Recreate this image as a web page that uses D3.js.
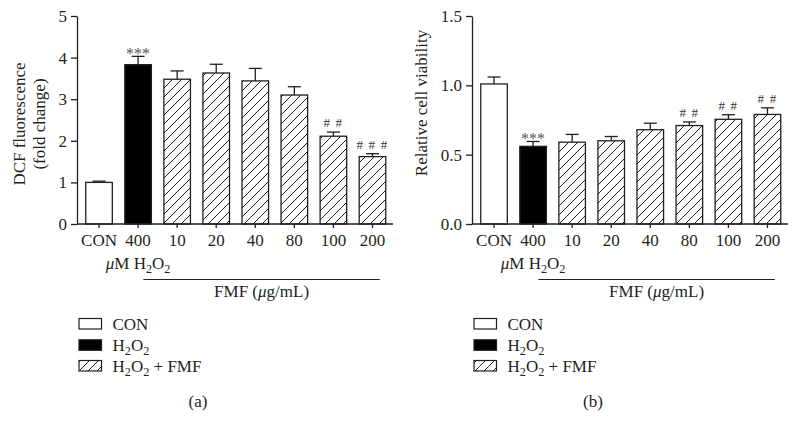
<!DOCTYPE html>
<html>
<head>
<meta charset="utf-8">
<script src="https://cdn.jsdelivr.net/npm/d3@7"></script>
<style>
  html, body { margin: 0; padding: 0; background: #fff; }
  svg { display: block; }
  text { font-family: "Liberation Serif", "Times New Roman", serif; fill: #231f20; }
</style>
</head>
<body>
<svg id="chart" width="797" height="434"></svg>
<script>
// ---------- data ----------
const categories = ["CON", "400", "10", "20", "40", "80", "100", "200"];
const groups = ["con", "h2o2", "fmf", "fmf", "fmf", "fmf", "fmf", "fmf"];

const dcfMean = [1.00, 3.83, 3.48, 3.63, 3.44, 3.10, 2.11, 1.62];
const dcfErr  = [0.03, 0.20, 0.20, 0.21, 0.30, 0.20, 0.10, 0.07];
const dcfSig  = ["", "***", "", "", "", "", "# #", "# # #"];
const dcfTicks = [0, 1, 2, 3, 4, 5];
const dcfTickLabels = ["0", "1", "2", "3", "4", "5"];

const viaMean = [1.01, 0.56, 0.59, 0.60, 0.68, 0.71, 0.755, 0.79];
const viaErr  = [0.05, 0.035, 0.056, 0.031, 0.047, 0.026, 0.033, 0.048];
const viaSig  = ["", "***", "", "", "", "# #", "# #", "# #"];
const viaTicks = [0, 0.5, 1.0, 1.5];
const viaTickLabels = ["0.0", "0.5", "1.0", "1.5"];

const legendLabels = ["CON", "H2O2", "H2O2 + FMF"];
const legendGroups = ["con", "h2o2", "fmf"];
const panelLetters = ["(a)", "(b)"];

// ---------- drawing ----------
const svg = d3.select("#chart");
const ink = "#231f20";
const FS = 17;

const defs = svg.append("defs");
const pat = defs.append("pattern")
  .attr("id", "hatch")
  .attr("patternUnits", "userSpaceOnUse")
  .attr("width", 9).attr("height", 9);
pat.append("rect").attr("width", 9).attr("height", 9).attr("fill", "#fff");
pat.append("path")
  .attr("d", "M-1,10 L10,-1 M-1,1 L1,-1 M8,10 L10,8")
  .attr("stroke", ink).attr("stroke-width", 1);

function fillFor(g) {
  return g === "con" ? "#fff" : g === "h2o2" ? "#000" : "url(#hatch)";
}

// H2O2 with subscripts
function h2o2(sel, suffix) {
  sel.append("tspan").text("H");
  sel.append("tspan").attr("font-size", "0.72em").attr("dy", 4).text("2");
  sel.append("tspan").attr("dy", -4).text("O");
  sel.append("tspan").attr("font-size", "0.72em").attr("dy", 4).text("2");
  sel.append("tspan").attr("dy", -4).text(suffix || "");
}

function panel(cfg) {
  const g = svg.append("g");
  const x = d3.scaleBand()
    .domain(categories)
    .range([cfg.x0 + 2.5, cfg.x0 + 315])
    .paddingInner(0.32)
    .paddingOuter(0.16);
  const y = d3.scaleLinear().domain(cfg.domain).range([224, 16]);
  const bw = x.bandwidth();

  // error bars (upward only)
  const cap = 13;
  categories.forEach((c, i) => {
    const cx = x(c) + bw / 2;
    const top = y(cfg.mean[i] + cfg.err[i]);
    g.append("line").attr("x1", cx).attr("x2", cx)
      .attr("y1", y(cfg.mean[i])).attr("y2", top)
      .attr("stroke", ink).attr("stroke-width", 1.3);
    g.append("line").attr("x1", cx - cap / 2).attr("x2", cx + cap / 2)
      .attr("y1", top).attr("y2", top)
      .attr("stroke", ink).attr("stroke-width", 1.3);
  });

  // bars
  g.selectAll("rect.bar").data(categories).enter().append("rect")
    .attr("class", "bar")
    .attr("x", d => x(d))
    .attr("width", bw)
    .attr("y", (d, i) => y(cfg.mean[i]))
    .attr("height", (d, i) => y(0) - y(cfg.mean[i]))
    .attr("fill", (d, i) => fillFor(groups[i]))
    .attr("stroke", ink).attr("stroke-width", 1.3);

  // significance marks
  categories.forEach((c, i) => {
    const s = cfg.sig[i];
    if (!s) return;
    const cx = x(c) + bw / 2;
    const top = y(cfg.mean[i] + cfg.err[i]);
    const star = s.indexOf("*") >= 0;
    g.append("text")
      .attr("x", cx).attr("y", star ? top + 2.5 : top - 5)
      .attr("text-anchor", "middle")
      .attr("font-size", star ? 16 : 13)
      .attr("letter-spacing", star ? 0 : 1.2)
      .style("fill", star ? "#555" : "#333")
      .text(s);
  });

  // y axis
  const ya = d3.axisLeft(y).tickValues(cfg.ticks)
    .tickFormat((d, i) => cfg.tickLabels[i]).tickSize(6).tickSizeOuter(0).tickPadding(4);
  const yg = g.append("g").attr("transform", `translate(${cfg.x0},0)`).call(ya);
  yg.select(".domain").attr("stroke", ink).attr("stroke-width", 1.3);
  yg.selectAll(".tick line").attr("stroke", ink).attr("stroke-width", 1.3);
  yg.selectAll(".tick text").attr("font-size", FS).attr("font-family", "Liberation Serif").style("fill", ink);

  // x axis
  const xa = d3.axisBottom(x).tickSize(4).tickSizeOuter(0).tickPadding(6);
  const xg = g.append("g").attr("transform", "translate(0,224)").call(xa);
  xg.select(".domain").attr("stroke", ink).attr("stroke-width", 1.3)
    .attr("d", `M${cfg.x0},0H${cfg.x0 + 316}`);
  xg.selectAll(".tick line").attr("stroke", ink).attr("stroke-width", 1.3);
  xg.selectAll(".tick text").attr("font-size", FS).attr("font-family", "Liberation Serif").style("fill", ink);

  // µM H2O2 under the 400 label
  const c400 = x("400") + bw / 2;
  const t = g.append("text").attr("x", c400).attr("y", 269)
    .attr("text-anchor", "middle").attr("font-size", FS);
  t.append("tspan").attr("font-style", "italic").text("μ");
  t.append("tspan").text("M ");
  h2o2(t);

  // FMF bracket line
  const lx1 = c400 + bw / 2 - 8;
  const lx2 = x("200") + bw - 6;
  g.append("line").attr("x1", lx1).attr("x2", lx2).attr("y1", 279.5).attr("y2", 279.5)
    .attr("stroke", ink).attr("stroke-width", 1);
  const f = g.append("text").attr("x", (lx1 + lx2) / 2).attr("y", 297)
    .attr("text-anchor", "middle").attr("font-size", FS);
  f.append("tspan").text("FMF (");
  f.append("tspan").attr("font-style", "italic").text("μ");
  f.append("tspan").text("g/mL)");

  // y axis title
  const tt = g.append("text")
    .attr("transform", `translate(${cfg.titleX},${cfg.titleY}) rotate(-90)`)
    .attr("text-anchor", "middle").attr("font-size", 17);
  cfg.title.forEach((line, k) => {
    tt.append("tspan").attr("x", 0).attr("dy", k === 0 ? 0 : 20).text(line);
  });

  // legend
  const lg = g.append("g");
  const rowsY = [318.5, 339.8, 360.5];
  legendLabels.forEach((lab, k) => {
    lg.append("rect")
      .attr("x", cfg.x0 + 2).attr("y", rowsY[k])
      .attr("width", 22.5).attr("height", 10.5)
      .attr("fill", fillFor(legendGroups[k]))
      .attr("stroke", ink).attr("stroke-width", 1.2);
    const tx = lg.append("text").attr("x", cfg.x0 + 35.5).attr("y", rowsY[k] + 11)
      .attr("font-size", FS);
    if (lab === "CON") tx.text(lab);
    else if (lab === "H2O2") h2o2(tx);
    else h2o2(tx, " + FMF");
  });

  // panel letter
  g.append("text").attr("x", cfg.x0 + 121).attr("y", 407)
    .attr("text-anchor", "middle").attr("font-size", FS).text(cfg.letter);
}

panel({
  x0: 77, domain: [0, 5], mean: dcfMean, err: dcfErr, sig: dcfSig,
  ticks: dcfTicks, tickLabels: dcfTickLabels,
  title: ["DCF fluorescence", "(fold change)"], titleX: 25, titleY: 124,
  letter: panelLetters[0]
});
panel({
  x0: 472, domain: [0, 1.5], mean: viaMean, err: viaErr, sig: viaSig,
  ticks: viaTicks, tickLabels: viaTickLabels,
  title: ["Relative cell viability"], titleX: 427, titleY: 103,
  letter: panelLetters[1]
});
</script>
</body>
</html>
